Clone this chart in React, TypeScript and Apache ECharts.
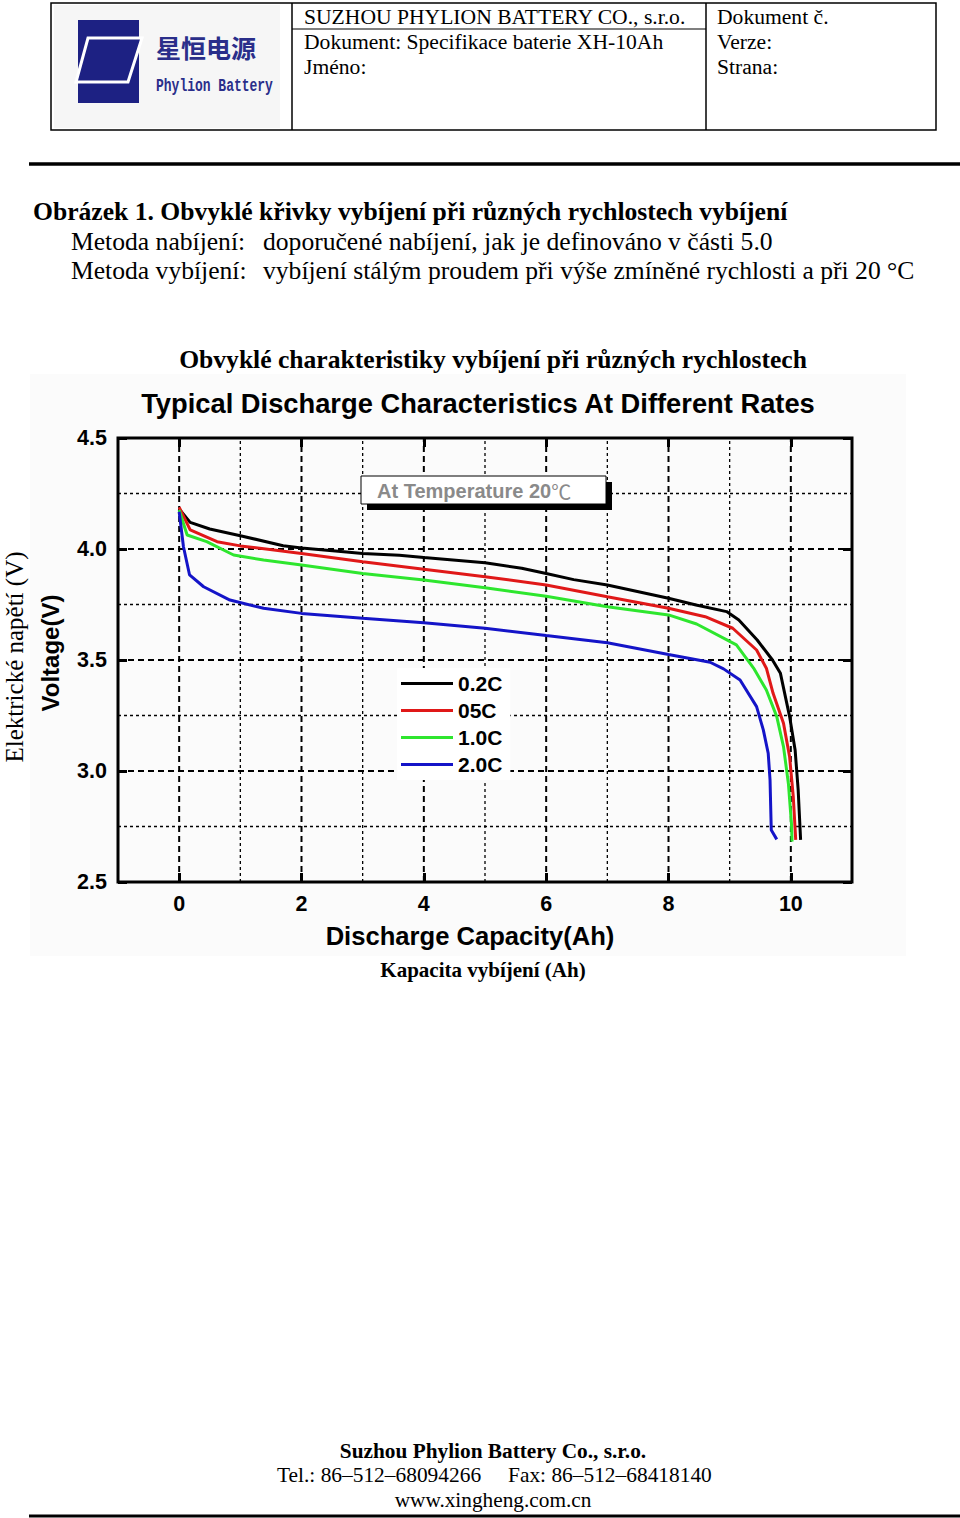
import React, { useEffect, useRef } from 'react';
import * as echarts from 'echarts';

// ---- data ----
const seriesNames = ['0.2C', '05C', '1.0C', '2.0C'];
const seriesColors = ['#000000', '#e01818', '#2ee62e', '#1414c8'];

const cap02 = [0, 0.18, 0.5, 1.0, 1.7, 2.0, 2.6, 3.0, 3.6, 4.0, 5.0, 5.6, 6.0, 6.45, 7.0, 8.0, 8.45, 8.95, 9.15, 9.45, 9.7, 9.83, 9.98, 10.07, 10.12, 10.16];
const volt02 = [4.18, 4.12, 4.09, 4.06, 4.015, 4.005, 3.99, 3.98, 3.972, 3.962, 3.938, 3.913, 3.89, 3.862, 3.838, 3.778, 3.748, 3.718, 3.68, 3.59, 3.5, 3.44, 3.245, 3.095, 2.915, 2.69];

const cap05 = [0, 0.18, 0.62, 1.0, 2.0, 3.0, 4.0, 5.0, 6.0, 7.0, 8.0, 8.6, 9.05, 9.44, 9.6, 9.71, 9.88, 9.98, 10.04, 10.08];
const volt05 = [4.188, 4.086, 4.033, 4.014, 3.98, 3.943, 3.909, 3.875, 3.838, 3.785, 3.733, 3.695, 3.643, 3.545, 3.463, 3.35, 3.215, 3.064, 2.884, 2.69];

const cap10 = [0, 0.13, 0.45, 0.89, 1.38, 2.0, 3.0, 4.0, 5.0, 6.0, 7.0, 8.0, 8.46, 9.11, 9.4, 9.6, 9.77, 9.88, 9.96, 10.01, 10.02];
const volt10 = [4.176, 4.063, 4.033, 3.973, 3.95, 3.928, 3.89, 3.86, 3.825, 3.787, 3.74, 3.703, 3.662, 3.568, 3.46, 3.365, 3.245, 3.11, 2.944, 2.764, 2.682];

const cap20 = [0, 0.07, 0.17, 0.4, 0.83, 1.38, 2.0, 3.0, 4.0, 5.0, 6.0, 7.0, 8.0, 8.68, 8.9, 9.17, 9.44, 9.55, 9.63, 9.66, 9.68, 9.77];
const volt20 = [4.168, 4.01, 3.883, 3.83, 3.77, 3.733, 3.71, 3.688, 3.668, 3.643, 3.61, 3.578, 3.525, 3.49, 3.46, 3.41, 3.29, 3.185, 3.08, 2.96, 2.734, 2.692];

const X_MIN = -1;
const X_MAX = 11;
const Y_MIN = 2.5;
const Y_MAX = 4.5;
const xLabelValues = [0, 2, 4, 6, 8, 10];
const xMajorGrid = [0, 2, 4, 6, 8, 10];
const xMinorGrid = [1, 3, 5, 7, 9];
const yMajorGrid = [3.0, 3.5, 4.0];
const yMinorGrid = [2.75, 3.25, 3.75, 4.25];

const SERIF = '"Liberation Serif", "Times New Roman", serif';
const SANS = '"Liberation Sans", Arial, sans-serif';

function zip(xs: number[], ys: number[]) {
  return xs.map((x, i) => [x, ys[i]]);
}

function txt(text: string, x: number, y: number, o: any = {}) {
  return {
    type: 'text',
    x,
    y,
    z: 100,
    rotation: o.rotation || 0,
    scaleY: o.scaleY || 1,
    style: {
      text,
      fill: o.fill || '#000',
      fontSize: o.size || 20,
      fontWeight: o.weight || 'normal',
      fontFamily: o.family || SERIF,
      textAlign: o.align || 'left',
      textVerticalAlign: 'middle',
      align: o.align || 'left',
      verticalAlign: 'middle',
    },
  };
}

function hline(x1: number, x2: number, y: number, w: number) {
  return { type: 'line', z: 100, shape: { x1, y1: y, x2, y2: y }, style: { stroke: '#000', lineWidth: w } };
}
function vline(x: number, y1: number, y2: number, w: number) {
  return { type: 'line', z: 100, shape: { x1: x, y1, x2: x, y2 }, style: { stroke: '#000', lineWidth: w } };
}

export default function App() {
  const ref = useRef<HTMLDivElement>(null);
  useEffect(() => {
    if (!ref.current) return;
    const chart = echarts.init(ref.current, null, { renderer: 'svg' });

    const gridData: number[][] = [
      ...xMajorGrid.map((v) => [v, 0]),
      ...xMinorGrid.map((v) => [v, 1]),
      ...yMajorGrid.map((v) => [v, 2]),
      ...yMinorGrid.map((v) => [v, 3]),
    ];

    const navy = '#1d2183';
    const headSize = 21.6;
    const bodySize = 25.6;

    const graphicEls: any[] = [
      // chart picture background
      { type: 'rect', z: -5, shape: { x: 30, y: 374, width: 876, height: 582 }, style: { fill: '#fbfbfb' } },
      // header table
      { type: 'rect', z: 99, shape: { x: 54, y: 5, width: 226, height: 123 }, style: { fill: '#f6f6f6' } },
      { type: 'rect', z: 100, shape: { x: 51, y: 3, width: 885, height: 127 }, style: { fill: 'none', stroke: '#000', lineWidth: 1.5 } },
      vline(292, 3, 130, 1.5),
      vline(706, 3, 130, 1.5),
      hline(292, 706, 29, 1.2),
      // logo
      { type: 'rect', z: 100, shape: { x: 78, y: 20, width: 61, height: 83 }, style: { fill: navy } },
      { type: 'polygon', z: 101, shape: { points: [[88, 38], [142, 38], [128, 82], [76, 82]] }, style: { fill: navy, stroke: '#fff', lineWidth: 3 } },
      txt('星恒电源', 156, 47, { size: 25, weight: 'bold', family: '"Noto Sans CJK SC", sans-serif', fill: '#2a2e8a' }),
      txt('Phylion Battery', 156, 86, { size: 13, weight: 'bold', family: '"Liberation Mono", "DejaVu Sans Mono", monospace', fill: '#2a2e8a', scaleY: 1.4 }),
      txt('SUZHOU PHYLION BATTERY CO., s.r.o.', 304, 17, { size: headSize }),
      txt('Dokument: Specifikace baterie XH-10Ah', 304, 42, { size: headSize }),
      txt('Jméno:', 304, 67, { size: headSize }),
      txt('Dokument č.', 717, 17, { size: headSize }),
      txt('Verze:', 717, 42, { size: headSize }),
      txt('Strana:', 717, 67, { size: headSize }),
      hline(29, 960, 164, 3.5),
      // caption texts
      txt('Obrázek 1. Obvyklé křivky vybíjení při různých rychlostech vybíjení', 33, 211, { size: bodySize, weight: 'bold' }),
      txt('Metoda nabíjení:', 71, 241, { size: bodySize }),
      txt('doporučené nabíjení, jak je definováno v části 5.0', 263, 241, { size: bodySize }),
      txt('Metoda vybíjení:', 71, 270, { size: bodySize }),
      txt('vybíjení stálým proudem při výše zmíněné rychlosti a při 20 °C', 263, 270, { size: bodySize }),
      txt('Obvyklé charakteristiky vybíjení při různých rychlostech', 493, 359, { size: 25.6, weight: 'bold', align: 'center' }),
      txt('Kapacita vybíjení (Ah)', 483, 970, { size: 21, weight: 'bold', align: 'center' }),
      txt('Elektrické napětí (V)', 14, 657, { size: 25, align: 'center', rotation: Math.PI / 2 }),
      // chart picture texts
      txt('Typical Discharge Characteristics At Different Rates', 478, 403, { size: 27.3, weight: 'bold', family: SANS, align: 'center' }),
      txt('Voltage(V)', 50, 653, { size: 24, weight: 'bold', family: SANS, align: 'center', rotation: Math.PI / 2 }),
      txt('Discharge Capacity(Ah)', 470, 936, { size: 25.6, weight: 'bold', family: SANS, align: 'center' }),
      // temperature box
      { type: 'rect', z: 100, shape: { x: 367, y: 482, width: 245, height: 28 }, style: { fill: '#000' } },
      { type: 'rect', z: 101, shape: { x: 361, y: 476, width: 245, height: 28 }, style: { fill: '#fff', stroke: '#000', lineWidth: 1 } },
      {
        type: 'text', z: 102, x: 377, y: 491,
        style: {
          text: '{a|At Temperature 20}{b|℃}',
          textVerticalAlign: 'middle', verticalAlign: 'middle',
          rich: {
            a: { fontSize: 20, fontWeight: 'bold', fontFamily: SANS, fill: '#8a8a8a', color: '#8a8a8a' },
            b: { fontSize: 20, fontWeight: 'normal', fontFamily: '"Noto Sans CJK SC", sans-serif', fill: '#8a8a8a', color: '#8a8a8a' },
          },
        },
      },
      // footer
      txt('Suzhou Phylion Battery Co., s.r.o.', 493, 1451, { size: 21.3, weight: 'bold', align: 'center' }),
      txt('Tel.: 86–512–68094266', 277, 1475, { size: 21.4 }),
      txt('Fax: 86–512–68418140', 508, 1475, { size: 21.4 }),
      txt('www.xingheng.com.cn', 493, 1500, { size: 21.3, align: 'center' }),
      hline(29, 960, 1516, 3),
    ];

    const tickStyle = { inside: true, length: 9, lineStyle: { width: 3, color: '#000' } };
    const labelStyle = { fontSize: 21.5, fontWeight: 'bold', color: '#000', fontFamily: SANS };
    const noLine = { show: false, onZero: false };

    const option: any = {
      animation: false,
      backgroundColor: '#fff',
      grid: { left: 118, top: 438, width: 734, height: 444, show: true, borderColor: '#000', borderWidth: 3, backgroundColor: 'transparent' },
      legend: {
        data: seriesNames.map((name) => ({ name, icon: 'rect' })),
        orient: 'vertical',
        left: 397,
        top: 668,
        itemWidth: 52,
        itemHeight: 3,
        itemGap: 6,
        padding: [5, 8, 5, 4],
        backgroundColor: '#fff',
        textStyle: { fontSize: 21, fontWeight: 'bold', color: '#000', fontFamily: SANS, padding: [0, 0, 0, 0] },
        selectedMode: false,
      },
      xAxis: [
        {
          type: 'value', position: 'bottom', min: X_MIN, max: X_MAX, interval: 1,
          splitLine: { show: false }, axisLine: noLine,
          axisTick: { ...tickStyle, customValues: xLabelValues },
          axisLabel: {
            ...labelStyle, margin: 11, customValues: xLabelValues,
            formatter: (v: number) => (xLabelValues.indexOf(v) >= 0 ? String(v) : ''),
          },
        },
        {
          type: 'value', position: 'top', min: X_MIN, max: X_MAX, interval: 1,
          splitLine: { show: false }, axisLine: noLine,
          axisTick: { ...tickStyle, customValues: xLabelValues },
          axisLabel: { show: false },
        },
      ],
      yAxis: [
        {
          type: 'value', position: 'left', min: Y_MIN, max: Y_MAX, interval: 0.5,
          splitLine: { show: false }, axisLine: noLine,
          axisTick: tickStyle,
          axisLabel: { ...labelStyle, margin: 11, formatter: (v: number) => v.toFixed(1) },
        },
        {
          type: 'value', position: 'right', min: Y_MIN, max: Y_MAX, interval: 0.5,
          splitLine: { show: false }, axisLine: noLine,
          axisTick: tickStyle,
          axisLabel: { show: false },
        },
      ],
      series: [
        {
          type: 'custom', name: 'grid', silent: true, z: 1, xAxisIndex: 0, yAxisIndex: 0,
          data: gridData,
          renderItem: (params: any, api: any) => {
            const v = api.value(0);
            const kind = api.value(1);
            const vertical = kind < 2;
            const major = kind % 2 === 0;
            const p1 = vertical ? api.coord([v, Y_MIN]) : api.coord([X_MIN, v]);
            const p2 = vertical ? api.coord([v, Y_MAX]) : api.coord([X_MAX, v]);
            return {
              type: 'line',
              shape: { x1: p1[0], y1: p1[1], x2: p2[0], y2: p2[1] },
              style: { stroke: '#000', lineWidth: major ? 2 : 1.3, lineDash: major ? [6, 4] : [3, 3] },
            };
          },
        },
        ...[zip(cap02, volt02), zip(cap05, volt05), zip(cap10, volt10), zip(cap20, volt20)].map((d, i) => ({
          type: 'line', name: seriesNames[i], data: d, z: 3,
          showSymbol: false, symbol: 'none', smooth: false,
          lineStyle: { width: 3, color: seriesColors[i] },
          itemStyle: { color: seriesColors[i] },
        })),
      ],
      graphic: { elements: graphicEls },
    };
    chart.setOption(option);
    return () => chart.dispose();
  }, []);
  return <div ref={ref} style={{ position: 'absolute', left: 0, top: 0, width: 960, height: 1518 }} />;
}
